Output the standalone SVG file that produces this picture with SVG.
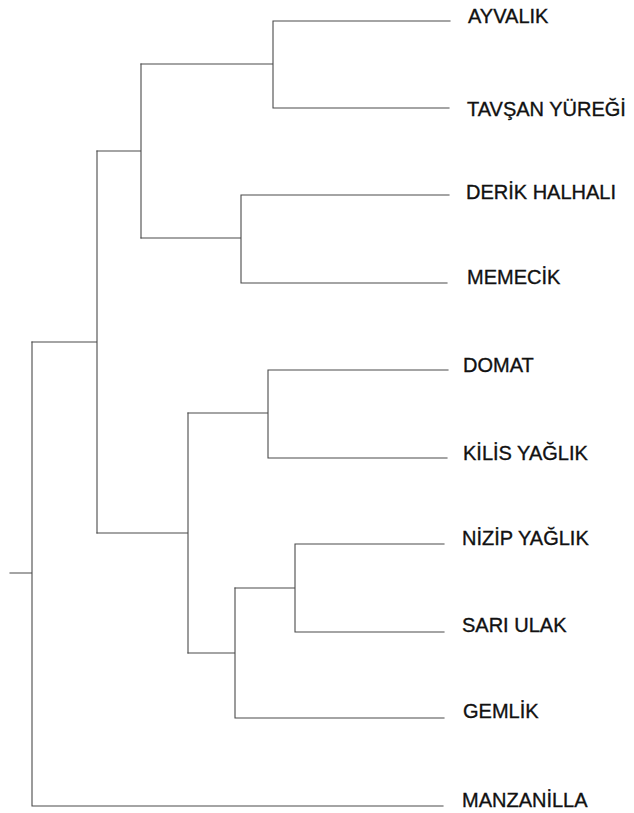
<svg xmlns="http://www.w3.org/2000/svg" width="634" height="813" viewBox="0 0 634 813">
  <style>
    .br { fill: none; stroke: #4a4a4a; stroke-width: 1.1; stroke-linecap: square; }
    .lbl { font-family: "Liberation Sans", Arial, sans-serif; font-size: 20px; fill: #111; stroke: #111; stroke-width: 0.35; }
  </style>
  <rect width="634" height="813" fill="#fff"/>

  <!-- dendrogram branches -->
  <g id="connectors">
    <!-- root -->
    <path class="br" d="M10,573 H32 M32,342 V806 H443"/>
    <!-- upper main clade -->
    <path class="br" d="M32,342 H97 V151 M97,342 V533"/>
    <path class="br" d="M97,151 H141 V64 M141,151 V238"/>
    <path class="br" d="M141,64 H273 V21 H450 M273,64 V108 H449"/>
    <path class="br" d="M141,238 H241 V195 H449 M241,238 V283 H447"/>
    <!-- lower main clade -->
    <path class="br" d="M97,533 H188 V413 M188,533 V653"/>
    <path class="br" d="M188,413 H268 V370 H448 M268,413 V458 H447"/>
    <path class="br" d="M188,653 H235 V588 M235,653 V718 H444"/>
    <path class="br" d="M235,588 H295 V544 H444 M295,588 V632 H444"/>
  </g>

  <!-- leaf labels -->
  <g id="ayvalik"><text class="lbl" x="468" y="23">AYVALIK</text></g>
  <g id="tavsan-yuregi"><text class="lbl" x="467" y="116">TAVŞAN YÜREĞİ</text></g>
  <g id="derik-halhali"><text class="lbl" x="466" y="199">DERİK HALHALI</text></g>
  <g id="memecik"><text class="lbl" x="467" y="284">MEMECİK</text></g>
  <g id="domat"><text class="lbl" x="463" y="372">DOMAT</text></g>
  <g id="kilis-yaglik"><text class="lbl" x="463" y="460">KİLİS YAĞLIK</text></g>
  <g id="nizip-yaglik"><text class="lbl" x="462" y="545">NİZİP YAĞLIK</text></g>
  <g id="sari-ulak"><text class="lbl" x="462" y="632">SARI ULAK</text></g>
  <g id="gemlik"><text class="lbl" x="463" y="718">GEMLİK</text></g>
  <g id="manzanilla"><text class="lbl" x="462" y="807">MANZANİLLA</text></g>
</svg>
